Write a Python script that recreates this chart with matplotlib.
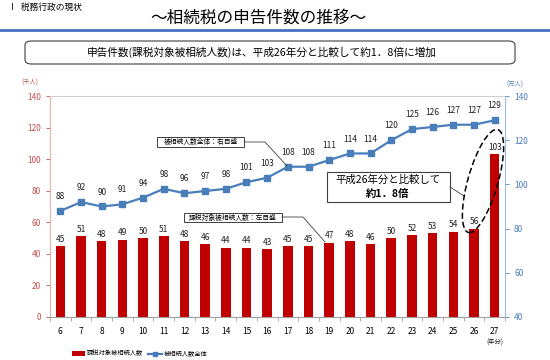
import matplotlib
matplotlib.use("Agg")
import matplotlib.pyplot as plt
from matplotlib.patches import FancyBboxPatch, Ellipse, Rectangle
from matplotlib.lines import Line2D
import numpy as np

plt.rcParams['font.family'] = ['Noto Sans CJK JP', 'DejaVu Sans']

years = ['6', '7', '8', '9', '10', '11', '12', '13', '14', '15', '16', '17', '18',
         '19', '20', '21', '22', '23', '24', '25', '26', '27']
taxed = [45, 51, 48, 49, 50, 51, 48, 46, 44, 44, 43, 45, 45, 47, 48, 46, 50, 52, 53, 54, 56, 103]
total = [88, 92, 90, 91, 94, 98, 96, 97, 98, 101, 103, 108, 108, 111, 114, 114, 120, 125, 126, 127, 127, 129]
left_ticks = [0, 20, 40, 60, 80, 100, 120, 140]
right_ticks = [40, 60, 80, 100, 120, 140]

RED = '#C00000'
BLUE = '#4A7EBB'
LRED = '#C0504D'

W, H = 550, 360
fig = plt.figure(figsize=(W / 100, H / 100), dpi=100)

def fx(px):
    return px / W

def fy(py):
    return 1 - py / H

ax = fig.add_axes([fx(50), fy(317), fx(505) - fx(50), fy(96) - fy(317)])
x = np.arange(len(years))
ax.bar(x, taxed, width=0.46, color=RED, zorder=2)
ax.set_xlim(-0.5, len(years) - 0.5)
ax.set_ylim(0, 140)
ax.set_yticks(left_ticks)
ax.tick_params(axis='y', colors=LRED, labelsize=6, length=3, width=0.6)
ax.set_xticks(x)
ax.set_xticklabels(years, fontsize=6)
ax.tick_params(axis='x', length=0, pad=7)
ax.set_xticks(np.arange(-0.5, len(years), 1), minor=True)
ax.tick_params(axis='x', which='minor', length=3, color='#A0A0A0', width=0.6)
ax.spines['left'].set_color('#E6B0B0')
ax.spines['bottom'].set_color('#A0A0A0')
ax.spines['top'].set_color('#D0D0D0')
ax.spines['right'].set_visible(False)
for xi, v in zip(x, taxed):
    ax.text(xi, v + 1.5, str(v), ha='center', va='bottom', fontsize=6, color='#202020')

ax2 = ax.twinx()
ax2.plot(x, total, color=BLUE, lw=1.6, marker='s', markersize=4.2, zorder=3)
ax2.set_ylim(40, 140)
ax2.set_yticks(right_ticks)
ax2.tick_params(axis='y', colors=BLUE, labelsize=6, length=3, width=0.6)
ax2.spines['right'].set_color('#9DB9DD')
for s in ['left', 'top', 'bottom']:
    ax2.spines[s].set_visible(False)
for xi, v in zip(x, total):
    ax2.text(xi, v + 4.5, str(v), ha='center', va='bottom', fontsize=6, color='#202020')

# header texts
fig.text(fx(8), fy(7), 'Ⅰ  税務行政の現状', fontsize=6.3, ha='left', va='center')
fig.text(fx(258), fy(18), '～相続税の申告件数の推移～', fontsize=12, ha='center', va='center')
fig.add_artist(Line2D([0, 1], [fy(30), fy(30)], color='#4472C4', lw=2))
box = FancyBboxPatch((fx(25), fy(64)), fx(515) - fx(25), fy(41) - fy(64),
                     boxstyle='round,pad=0,rounding_size=0.012', transform=fig.transFigure,
                     fc='white', ec='#404040', lw=0.8)
fig.add_artist(box)
fig.text(fx(262), fy(52.5), '申告件数(課税対象被相続人数)は、平成26年分と比較して約1．8倍に増加',
         fontsize=7.7, ha='center', va='center')

fig.text(fx(30), fy(83), '(千人)', fontsize=4.5, color=LRED, ha='center', va='center')
fig.text(fx(515), fy(85), '(万人)', fontsize=4.5, color=BLUE, ha='center', va='center')
fig.text(fx(495), fy(343), '(年分)', fontsize=4.5, color='#202020', ha='center', va='center')

# annotation boxes
def label_box(x0, x1, y0, y1, text, pts):
    fig.add_artist(Rectangle((fx(x0), fy(y1)), fx(x1) - fx(x0), fy(y0) - fy(y1),
                             transform=fig.transFigure, fc='white', ec='#404040', lw=0.7, zorder=5))
    fig.text(fx((x0 + x1) / 2), fy((y0 + y1) / 2), text, fontsize=4.9, ha='center', va='center', zorder=6)
    xs = [fx(p[0]) for p in pts]
    ys = [fy(p[1]) for p in pts]
    fig.add_artist(Line2D(xs, ys, color='#404040', lw=0.6, zorder=5))

label_box(157, 244, 137, 147, '被相続人数全体：右目盛', [(244, 142), (265, 142), (287, 166)])
label_box(184, 282, 213, 222, '課税対象被相続人数：左目盛', [(282, 217), (303, 217), (325, 242)])

# callout
fig.add_artist(Rectangle((fx(327), fy(202)), fx(450) - fx(327), fy(172) - fy(202),
                         transform=fig.transFigure, fc='white', ec='#404040', lw=0.8, zorder=5))
fig.text(fx(388), fy(180), '平成26年分と比較して', fontsize=7.5, ha='center', va='center', zorder=6)
fig.text(fx(388), fy(194), '約1．8倍', fontsize=7.5, fontweight='bold', ha='center', va='center', zorder=6)
fig.add_artist(Line2D([fx(450), fx(464)], [fy(187), fy(196)], color='#404040', lw=0.6, zorder=5))

ell = Ellipse((4.83, 3.6 - 1.81), width=0.30, height=1.07, angle=-16,
              transform=fig.dpi_scale_trans, fill=False, ec='black', lw=1.1, ls=(0, (4, 2)), zorder=6)
fig.add_artist(ell)

# legend
fig.add_artist(Rectangle((fx(72), fy(356)), fx(85) - fx(72), fy(351) - fy(356),
                         transform=fig.transFigure, fc=RED, ec='none'))
fig.text(fx(86.5), fy(353.5), '課税対象被相続人数', fontsize=4.5, ha='left', va='center')
fig.add_artist(Line2D([fx(148), fx(162)], [fy(353.5), fy(353.5)], color=BLUE, lw=1.6))
fig.add_artist(Line2D([fx(155)], [fy(353.5)], color=BLUE, marker='s', markersize=3.3, lw=0))
fig.text(fx(164), fy(353.5), '被相続人数全体', fontsize=4.5, ha='left', va='center')

fig.savefig('out.png', dpi=100)
